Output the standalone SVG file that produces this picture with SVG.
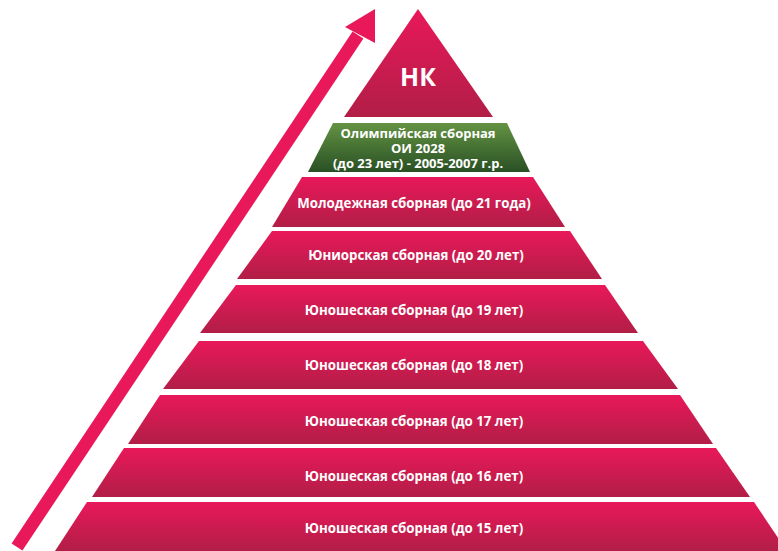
<svg xmlns="http://www.w3.org/2000/svg" width="778" height="551" viewBox="0 0 778 551">
<defs>
<linearGradient id="pink" x1="0" y1="0" x2="0" y2="1">
<stop offset="0" stop-color="#E9185A"/>
<stop offset="1" stop-color="#B11E46"/>
</linearGradient>
<linearGradient id="green" x1="0" y1="0" x2="0" y2="1">
<stop offset="0" stop-color="#649343"/>
<stop offset="1" stop-color="#295024"/>
</linearGradient>
<style>
.band{fill:url(#pink);}
.gband{fill:url(#green);}
.t{font-family:"Open Sans","Liberation Sans",sans-serif;font-weight:bold;font-size:13.3px;fill:#ffffff;text-anchor:middle;}
.g{font-size:13px;}
.big{font-size:25px;}
</style>
</defs>
<rect width="778" height="551" fill="#ffffff"/>
<g id="connectors">
<line x1="17" y1="547" x2="358" y2="35" stroke="#E9185A" stroke-width="13"/>
<polygon points="375,9 345,27 375,43" fill="#E9185A"/>
</g>
<g id="nk">
<polygon class="band" points="418,9 493,117 344,117"/>
<text class="t big" x="418" y="86">НК</text>
</g>
<g id="olymp">
<polygon class="gband" points="333,123 507,123 530,172 308,172"/>
<text class="t g" x="418" y="138">Олимпийская сборная</text>
<text class="t g" x="418" y="153">ОИ 2028</text>
<text class="t g" x="418" y="168">(до 23 лет) - 2005-2007 г.р.</text>
</g>
<g id="u21">
<polygon class="band" points="302,177 533,177 565,227 272,227"/>
<text class="t" x="414" y="208">Молодежная сборная (до 21 года)</text>
</g>
<g id="u20">
<polygon class="band" points="272,231 570,231 602,279 237,279"/>
<text class="t" x="416" y="260">Юниорская сборная (до 20 лет)</text>
</g>
<g id="u19">
<polygon class="band" points="236,285 605,285 638,333 200,333"/>
<text class="t" x="414" y="315">Юношеская сборная (до 19 лет)</text>
</g>
<g id="u18">
<polygon class="band" points="199,341 643,341 678,389 163,389"/>
<text class="t" x="414" y="370">Юношеская сборная (до 18 лет)</text>
</g>
<g id="u17">
<polygon class="band" points="160,395 680,395 713,444 128,444"/>
<text class="t" x="414" y="426">Юношеская сборная (до 17 лет)</text>
</g>
<g id="u16">
<polygon class="band" points="124,448 716,448 750,497 92,497"/>
<text class="t" x="414" y="481">Юношеская сборная (до 16 лет)</text>
</g>
<g id="u15">
<polygon class="band" points="87,502 754,502 787,551 55,551"/>
<text class="t" x="414" y="533">Юношеская сборная (до 15 лет)</text>
</g>
</svg>
